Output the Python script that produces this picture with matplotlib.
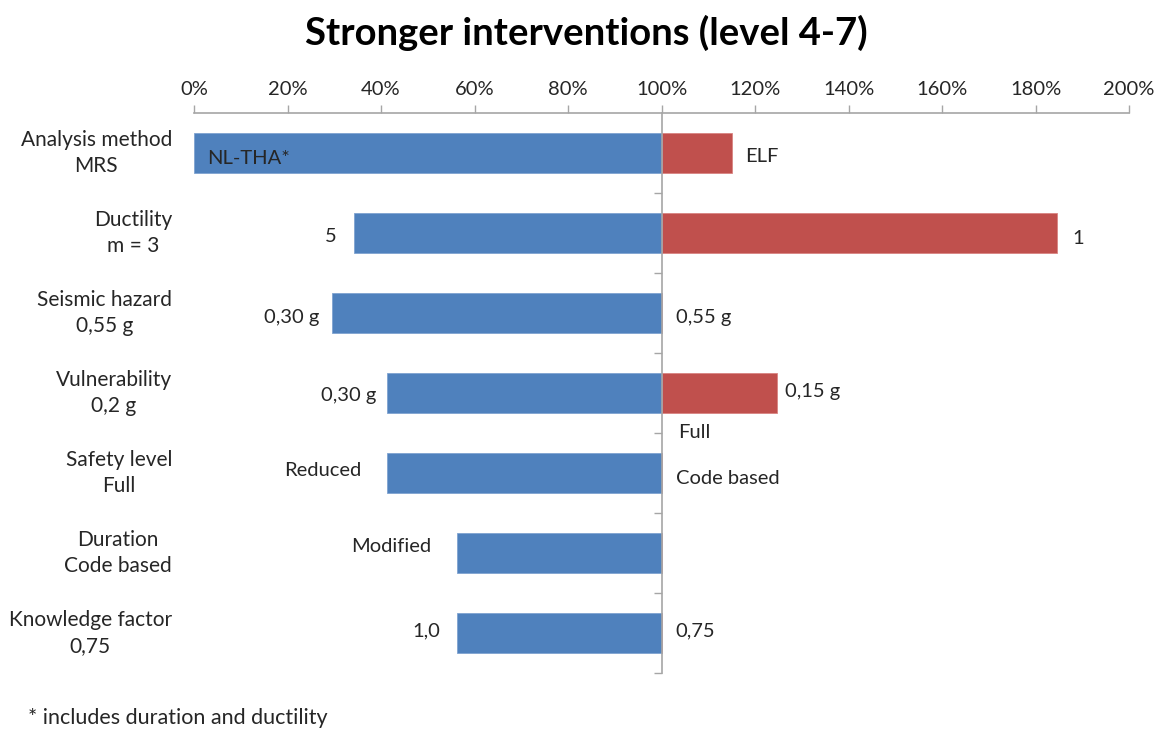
import matplotlib.pyplot as plt
from matplotlib.transforms import blended_transform_factory

plt.rcParams['font.family'] = ['Lato', 'DejaVu Sans']

# data (percent of reference)
categories = ['Analysis method\nMRS', 'Ductility\nm = 3', 'Seismic hazard\n0,55 g',
              'Vulnerability\n0,2 g', 'Safety level\nFull', 'Duration\nCode based',
              'Knowledge factor\n0,75']
blue_values = [0.0, 34.2, 29.5, 41.3, 41.3, 56.3, 56.3]
red_values = [115.1, 184.5, 100.0, 124.7, 100.0, 100.0, 100.0]
blue_labels = ['NL-THA*', '5', '0,30 g', '0,30 g', 'Reduced', 'Modified', '1,0']
red_labels = ['ELF', '1', '0,55 g', '0,15 g', 'Full', 'Code based', '0,75']
x_ticks = [0, 20, 40, 60, 80, 100, 120, 140, 160, 180, 200]
base = 100

# label offsets in pixels (hand placed like in the original)
blue_off = [(13, -6), (-17, -4), (-13, -5), (-11, -2), (-26, 2), (-26, 7), (-17, 2)]
blue_ha = ['left', 'right', 'right', 'right', 'right', 'right', 'right']
red_off = [(13, -3), (16, -6), (14, -5), (8, 2), (17, 41), (14, 75), (14, 2)]

BLUE = '#4F81BD'
RED = '#C0504D'
GRAY = '#A6A6A6'
TXT = '#262626'
FS = 14.5

fig = plt.figure(figsize=(11.61, 7.34), dpi=100)
ax = fig.add_axes([194 / 1161, 1 - 673 / 734, (1129 - 194) / 1161, (673 - 113) / 734])

n = len(categories)
ypos = list(range(n))

ax.barh(ypos, [base - v for v in blue_values], left=blue_values, height=0.5,
        color=BLUE, edgecolor='#7FA3D0', linewidth=0.6, zorder=2)
ax.barh(ypos, [v - base for v in red_values], left=base, height=0.5,
        color=RED, edgecolor='#D98482', linewidth=0.6, zorder=2)

for i in range(n):
    ax.annotate(blue_labels[i], (blue_values[i], ypos[i]), xytext=blue_off[i],
                textcoords='offset pixels', ha=blue_ha[i], va='center',
                fontsize=FS, color=TXT, zorder=3)
    ax.annotate(red_labels[i], (red_values[i], ypos[i]), xytext=red_off[i],
                textcoords='offset pixels', ha='left', va='center',
                fontsize=FS, color=TXT, zorder=3)

ax.set_xlim(0, 200)
ax.set_ylim(n - 0.5, -0.5)

# top axis
ax.xaxis.tick_top()
ax.set_xticks(x_ticks)
ax.set_xticklabels([f'{t}%' for t in x_ticks], fontsize=FS, color=TXT)
ax.tick_params(axis='x', direction='out', length=6, width=1, color=GRAY, pad=5)

# vertical axis at 100%
ax.spines['left'].set_position(('data', base))
ax.set_yticks([y + 0.5 for y in ypos])
ax.set_yticklabels([])
ax.tick_params(axis='y', direction='out', length=6, width=1, color=GRAY)
for s in ['right', 'bottom']:
    ax.spines[s].set_visible(False)
for s in ['left', 'top']:
    ax.spines[s].set_color(GRAY)
    ax.spines[s].set_linewidth(1.2)

# category labels (right-aligned block, centred lines)
tr = blended_transform_factory(fig.transFigure, ax.transData)
for i, c in enumerate(categories):
    ax.text(172 / 1161, ypos[i], c, transform=tr, ha='right', va='center',
            multialignment='center', fontsize=FS + 0.5, color=TXT, linespacing=1.35)

fig.text(0.505, 1 - 33 / 734, 'Stronger interventions (level 4-7)', ha='center',
         va='center', fontsize=27.5, fontweight='bold', color='black')
fig.text(28 / 1161, 1 - 718 / 734, '* includes duration and ductility', ha='left',
         va='center', fontsize=15.5, color=TXT)

fig.savefig('out.png', dpi=100)
